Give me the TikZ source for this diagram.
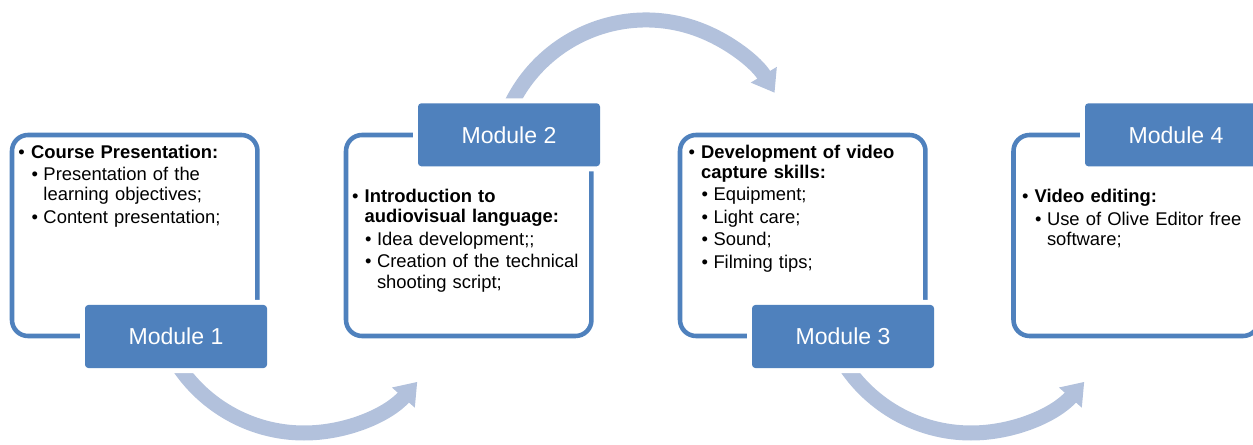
\documentclass[tikz,border=0pt]{standalone}
\usepackage{fontspec}
\setmainfont{Liberation Sans}
\usetikzlibrary{arrows.meta}
\definecolor{modblue}{RGB}{79,129,189}
\definecolor{arrowblue}{RGB}{178,193,220}
% bullet levels (A = first level, B = second level, c = continuation line)
\newcommand\lvA[1]{\noindent\strut\makebox[9.5pt][l]{\textbullet}#1\par}
\newcommand\lvAc[1]{\noindent\strut\hspace*{9.5pt}#1\par}
\newcommand\lvB[1]{\vspace{1.65pt}\noindent\strut\hspace*{9.75pt}\makebox[9pt][l]{\textbullet}#1\par}
\newcommand\lvBc[1]{\noindent\strut\hspace*{18.75pt}#1\par}
\begin{document}
\begin{tikzpicture}[x=0.75pt,y=-0.75pt,
  flow/.style={draw=arrowblue,line width=11.25pt,-{Triangle[width=21.75pt,length=15.75pt]}},
  panel/.style={draw=modblue,line width=3.4pt,fill=white,rounded corners=12pt,
    minimum width=184.1pt,minimum height=150.75pt,inner sep=0pt,outer sep=0pt,anchor=north west},
  modbox/.style={fill=modblue,rounded corners=2.5pt,preaction={draw=white,line width=7.5pt},
    text=white,font=\fontsize{17.3}{20}\selectfont,inner sep=0pt,outer sep=0pt,
    minimum width=136.5pt,minimum height=47.25pt,anchor=north west},
  txt/.style={inner sep=0pt,outer sep=0pt,text width=185pt,align=left,anchor=north west,
    font=\fontsize{13.8}{15.2}\selectfont}]
\useasboundingbox (0,0) rectangle (1253,445);
\clip (0,0) rectangle (1253,445);
% arc centres
\coordinate (c1) at (304,282);
\coordinate (c2) at (646,170);
\coordinate (c3) at (971,282);
% circular arrows
\draw[flow] ([shift={(150:151)}]c1) arc[start angle=150,end angle=41.4,radius=151];
\draw[flow] ([shift={(200:150)}]c2) arc[start angle=200,end angle=329,radius=150];
\draw[flow] ([shift={(150:151)}]c3) arc[start angle=150,end angle=41.4,radius=151];
% panels
\node[panel] (p1) at (12,135) {};
\node[panel] (p2) at (346,135) {};
\node[panel] (p3) at (680,135) {};
\node[panel] (p4) at (1013.5,135) {};
% module headers
\node[modbox] (m1) at (85,305) {Module 1};
\node[modbox] (m2) at (418,103.3) {Module 2};
\node[modbox] (m3) at (752,305) {Module 3};
\node[modbox] (m4) at (1085,103.3) {Module 4};
% texts
\node[txt] (t1) at (18.5,144) {%
\lvA{\textbf{Course Presentation:}}%
\lvB{Presentation of the}%
\lvBc{learning objectives;}%
\lvB{Content presentation;}};
\node[txt] (t2) at (352,188.5) {%
\lvA{\textbf{Introduction to}}%
\lvAc{\textbf{audiovisual language:}}%
\lvB{Idea development;;}%
\lvB{Creation of the technical}%
\lvBc{shooting script;}};
\node[txt] (t3) at (688.5,144) {%
\lvA{\textbf{Development of video}}%
\lvAc{\textbf{capture skills:}}%
\lvB{Equipment;}%
\lvB{Light care;}%
\lvB{Sound;}%
\lvB{Filming tips;}};
\node[txt] (t4) at (1022,188.5) {%
\lvA{\textbf{Video editing:}}%
\lvB{Use of Olive Editor free}%
\lvBc{software;}};
\end{tikzpicture}
\end{document}
